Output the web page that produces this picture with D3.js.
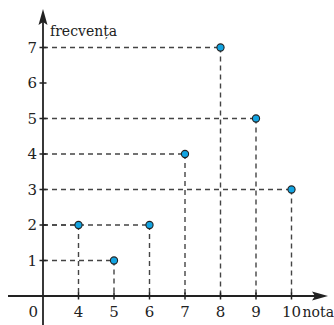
<!DOCTYPE html>
<html><head><meta charset="utf-8">
<script src="https://cdn.jsdelivr.net/npm/d3@7"></script>
<style>body{margin:0;background:#fff}svg{display:block}
text{font-family:"DejaVu Serif","Liberation Serif",serif}</style>
</head><body>
<script>
const grades = [4,5,6,7,8,9,10];
const freq = [2,1,2,4,7,5,3];
const yTicks = [1,2,3,4,5,6,7];
const xLabel = "nota";
const yLabel = "frecvența";

const W=334,H=325;
const svg=d3.select("body").append("svg").attr("width",W).attr("height",H);
const x=d3.scaleLinear().domain([3,10]).range([43,291.5]);
const y=d3.scaleLinear().domain([0,7]).range([296,47.5]);
const data=grades.map((g,i)=>({g,f:freq[i]}));

const gd=svg.append("g").attr("stroke","#444").attr("stroke-width",1.4).attr("stroke-dasharray","5,4").attr("fill","none");
data.forEach(d=>{
  gd.append("line").attr("x1",x(3)).attr("x2",x(d.g)).attr("y1",y(d.f)).attr("y2",y(d.f));
  gd.append("line").attr("x1",x(d.g)).attr("x2",x(d.g)).attr("y1",y(d.f)).attr("y2",y(0));
});

const ax=svg.append("g").attr("stroke","#222").attr("stroke-width",1.8);
ax.append("line").attr("x1",8).attr("x2",318).attr("y1",y(0)).attr("y2",y(0));
ax.append("line").attr("x1",x(3)).attr("x2",x(3)).attr("y1",325).attr("y2",20);
svg.append("path").attr("fill","#222")
  .attr("d",`M${x(3)},9 L${x(3)-4.5},25 L${x(3)},22 L${x(3)+4.5},25 Z`);
svg.append("path").attr("fill","#222")
  .attr("d",`M328,${y(0)} L312,${y(0)-4.5} L315,${y(0)} L312,${y(0)+4.5} Z`);

const tk=svg.append("g").attr("stroke","#222").attr("stroke-width",1.5);
yTicks.forEach(t=>tk.append("line").attr("x1",x(3)-3.5).attr("x2",x(3)+3.5).attr("y1",y(t)).attr("y2",y(t)));
grades.forEach(g=>tk.append("line").attr("x1",x(g)).attr("x2",x(g)).attr("y1",y(0)-3.5).attr("y2",y(0)+3.5));

const lt=svg.append("g").attr("font-size",15).attr("fill","#222");
yTicks.forEach(t=>lt.append("text").attr("x",x(3)-6).attr("y",y(t)+5).attr("text-anchor","end").text(t));
grades.forEach(g=>lt.append("text").attr("x",x(g)).attr("y",y(0)+21).attr("text-anchor","middle").text(g));
lt.append("text").attr("x",x(3)-5).attr("y",y(0)+21).attr("text-anchor","end").text("0");
lt.append("text").attr("x",334).attr("y",y(0)+21).attr("text-anchor","end").attr("font-size",14).text(xLabel);
lt.append("text").attr("x",50).attr("y",36).attr("font-size",14).text(yLabel);

svg.append("g").selectAll("circle").data(data).join("circle")
  .attr("cx",d=>x(d.g)).attr("cy",d=>y(d.f)).attr("r",3.6)
  .attr("fill","#12a4e2").attr("stroke","#222").attr("stroke-width",1.1);
</script>
</body></html>
